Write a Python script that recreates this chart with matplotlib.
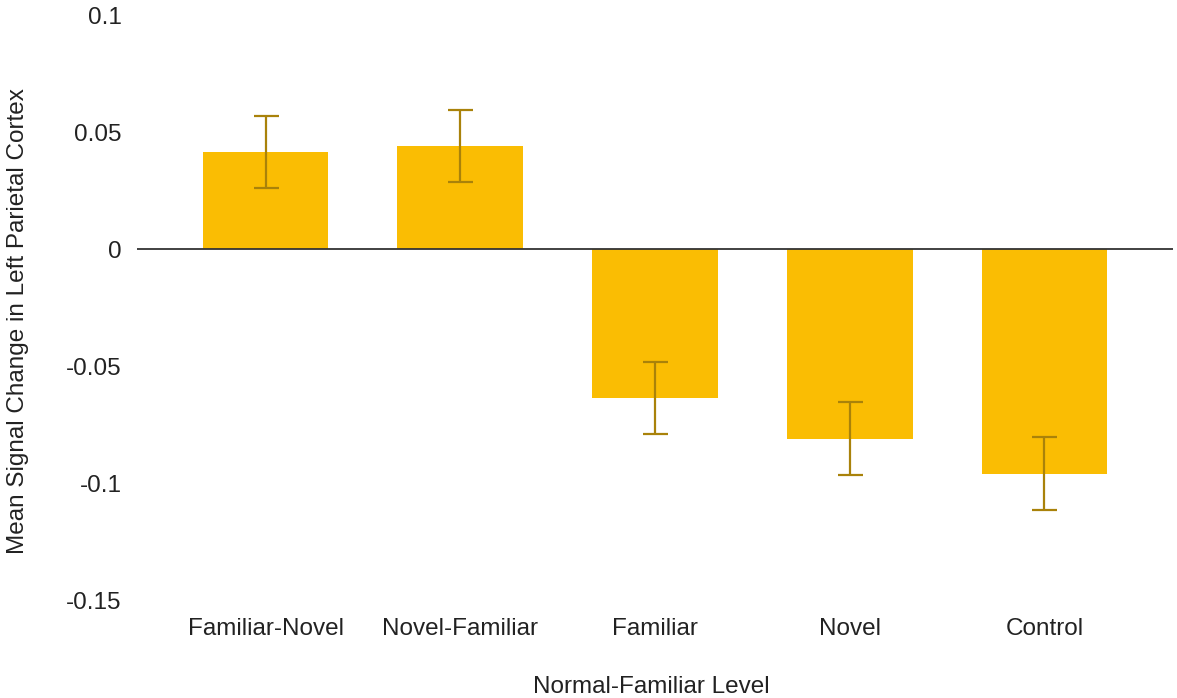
import matplotlib
matplotlib.use("Agg")
import matplotlib.pyplot as plt

categories = ["Familiar-Novel", "Novel-Familiar", "Familiar", "Novel", "Control"]
means = [0.0415, 0.044, -0.0637, -0.081, -0.096]
errors = [0.0155, 0.0155, 0.0155, 0.0155, 0.0155]
yticks = [-0.15, -0.1, -0.05, 0, 0.05, 0.1]
ytick_labels = ["-0.15", "-0.1", "-0.05", "0", "0.05", "0.1"]

plt.rcParams['font.family'] = ['Liberation Sans', 'DejaVu Sans']

fig = plt.figure(figsize=(11.77, 6.98), dpi=100)
ax = fig.add_axes([0.1164, 0.1404, 0.8802, 0.8381])

x = list(range(len(categories)))
ax.bar(x, means, width=0.645, color="#FABD03", zorder=2)
ax.errorbar(x, means, yerr=errors, fmt="none", ecolor="#A9820A",
            elinewidth=1.6, capsize=9, capthick=1.6, zorder=3)
ax.axhline(0, color="#333333", linewidth=1.3, zorder=4)

ax.set_xlim(-0.66, len(categories) - 1 + 0.66)
ax.set_ylim(-0.15, 0.1)
ax.set_yticks(yticks)
ax.set_yticklabels(ytick_labels)
ax.set_xticks(x)
ax.set_xticklabels(categories)
ax.tick_params(axis="both", length=0, labelsize=17.5, colors="#222222")
ax.tick_params(axis="y", pad=11)
ax.tick_params(axis="x", pad=13)
for s in ax.spines.values():
    s.set_visible(False)

fig.text(0.5535, (698 - 687) / 698, "Normal-Familiar Level", fontsize=17.5,
         color="#222222", ha="center", va="center")
fig.text(18 / 1177, (698 - 321) / 698, "Mean Signal Change in Left Parietal Cortex",
         fontsize=17.5, color="#222222", ha="center", va="center", rotation=90)

fig.savefig("out.png", dpi=100)
